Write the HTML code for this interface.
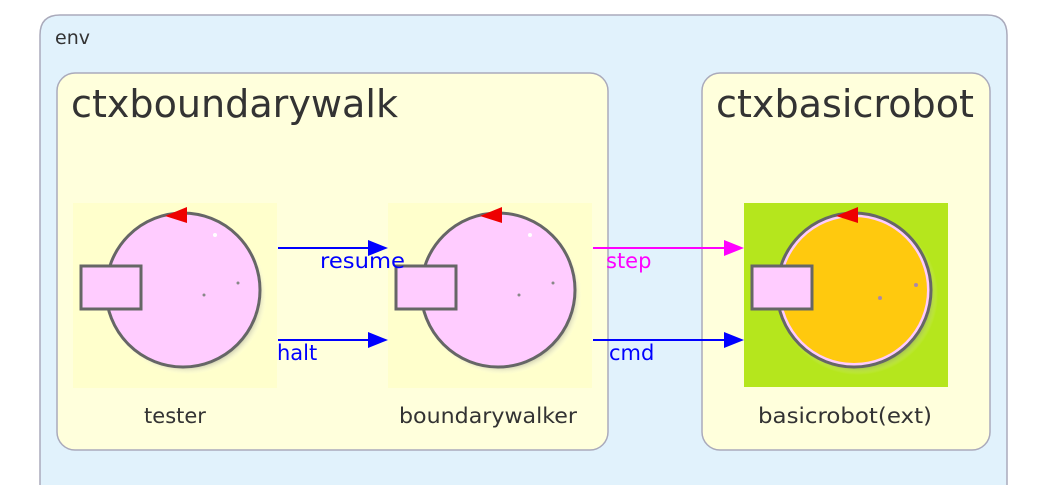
<!DOCTYPE html>
<html><head><meta charset="utf-8"><style>
html,body{margin:0;width:1051px;height:485px;background:#fff;overflow:hidden;font-family:"DejaVu Sans","Liberation Sans",sans-serif}
svg{display:block}
</style></head><body>
<svg width="1051" height="485" xmlns="http://www.w3.org/2000/svg" font-family="DejaVu Sans, Liberation Sans, sans-serif" style="overflow:hidden">
<defs>
<radialGradient id="sh"><stop offset="0.85" stop-color="#555" stop-opacity="0.6"/><stop offset="1" stop-color="#fff" stop-opacity="0"/></radialGradient>
<g id="robot">
<circle cx="114" cy="92" r="80" fill="url(#sh)"/>
<circle cx="110" cy="87" r="77" fill="#ffccff" stroke="#666" stroke-width="3"/>
<polygon points="92,13 114,4 114,20" fill="#ee0000"/>
<circle cx="142" cy="32" r="2" fill="#fff"/>
<circle cx="165" cy="80" r="1.5" fill="#888"/>
<circle cx="131" cy="92" r="1.5" fill="#888"/>
<rect x="8" y="63" width="60" height="43" fill="#ffccff" stroke="#666" stroke-width="3"/>
</g>
</defs>
<path d="M40,485 L40,35 Q40,15 60,15 L987,15 Q1007,15 1007,35 L1007,485 Z" fill="#e1f2fc"/>
<path d="M40,485 L40,35 Q40,15 60,15 L987,15 Q1007,15 1007,35 L1007,485" fill="none" stroke="#aab" stroke-width="1.5"/>
<text x="55" y="44" font-size="19" fill="#333">env</text>
<rect x="57" y="73" width="551" height="377" rx="18" fill="#ffffdc" stroke="#aab" stroke-width="1.5"/>
<rect x="702" y="73" width="288" height="377" rx="18" fill="#ffffdc" stroke="#aab" stroke-width="1.5"/>
<text x="71" y="117" font-size="38" fill="#333" textLength="327" lengthAdjust="spacingAndGlyphs">ctxboundarywalk</text>
<text x="716" y="117" font-size="38" fill="#333" textLength="258" lengthAdjust="spacingAndGlyphs">ctxbasicrobot</text>
<rect x="73" y="203" width="204" height="185" fill="#ffffcc"/>
<rect x="388" y="203" width="204" height="185" fill="#ffffcc"/>
<rect x="744" y="203" width="204" height="184" fill="#b5e61d"/>
<g transform="translate(73,203)"><use href="#robot"/></g>
<g transform="translate(388,203)"><use href="#robot"/></g>
<g transform="translate(744,203)">
<circle cx="114" cy="92" r="80" fill="url(#sh)"/>
<circle cx="110" cy="87" r="77" fill="#ffccff" stroke="#666" stroke-width="3"/>
<circle cx="110" cy="87" r="73" fill="#ffc90e"/>
<polygon points="92,13 114,4 114,20" fill="#ee0000"/>
<circle cx="172" cy="82" r="2" fill="#a8a"/>
<circle cx="136" cy="95" r="2" fill="#a8a"/>
<rect x="8" y="63" width="60" height="43" fill="#ffccff" stroke="#666" stroke-width="3"/>
</g>
<g stroke-width="2">
<line x1="278" y1="248" x2="370" y2="248" stroke="#00f"/><polygon points="368,240 388,248 368,256" fill="#00f"/>
<line x1="278" y1="340" x2="370" y2="340" stroke="#00f"/><polygon points="368,332 388,340 368,348" fill="#00f"/>
<line x1="593" y1="248" x2="726" y2="248" stroke="#f0f"/><polygon points="724,240 744,248 724,256" fill="#f0f"/>
<line x1="593" y1="340" x2="726" y2="340" stroke="#00f"/><polygon points="724,332 744,340 724,348" fill="#00f"/>
</g>
<g font-size="21">
<text x="320" y="268" fill="#00f" textLength="85" lengthAdjust="spacingAndGlyphs">resume</text>
<text x="277" y="360" fill="#00f">halt</text>
<text x="606" y="268" fill="#f0f">step</text>
<text x="609" y="360" fill="#00f">cmd</text>
</g>
<g font-size="21" fill="#333" text-anchor="middle">
<text x="175" y="423">tester</text>
<text x="488" y="423" textLength="178" lengthAdjust="spacingAndGlyphs">boundarywalker</text>
<text x="845" y="423" textLength="174" lengthAdjust="spacingAndGlyphs">basicrobot(ext)</text>
</g>
</svg>
</body></html>
